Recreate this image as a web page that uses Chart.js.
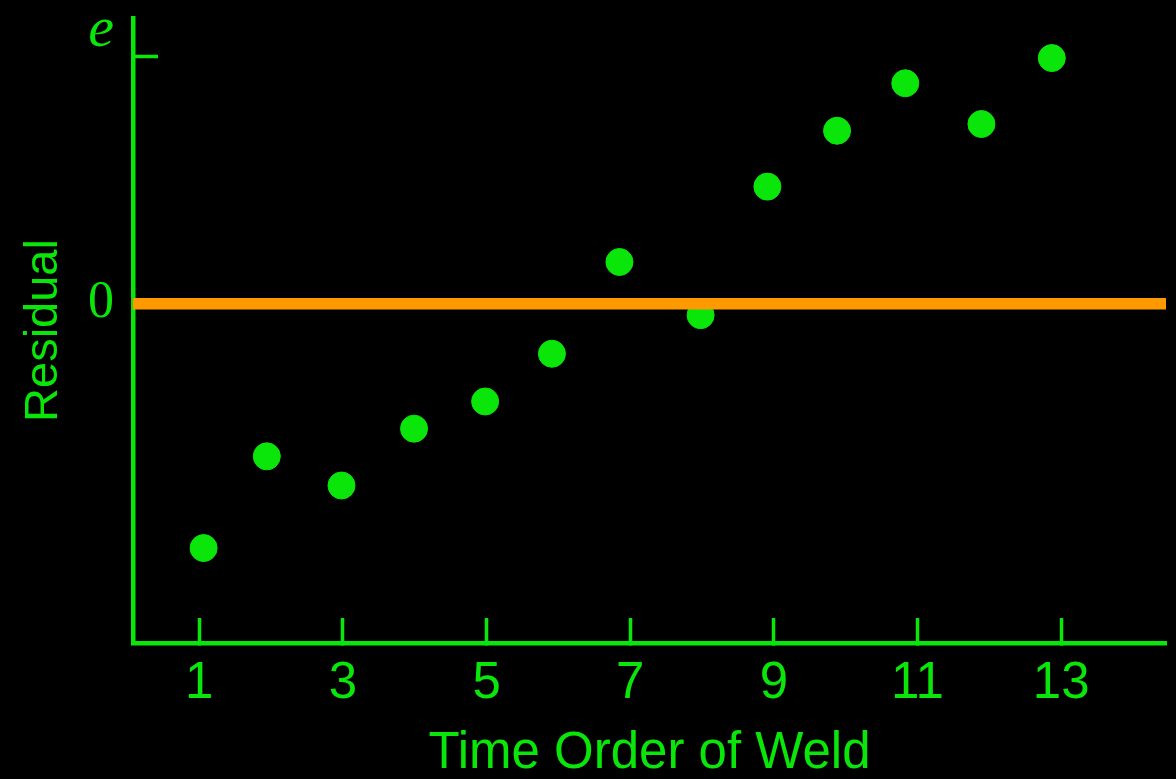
<!DOCTYPE html>
<html>
<head>
<meta charset="utf-8">
<title>Residual vs Time Order of Weld</title>
<script src="https://cdn.jsdelivr.net/npm/chart.js@4/dist/chart.umd.min.js"></script>
<style>
  html, body { margin: 0; padding: 0; background: #000; }
  #wrap { width: 1176px; height: 779px; }
</style>
</head>
<body>
<div id="wrap"><canvas id="chart" width="1176" height="779"></canvas></div>
<script>
// Residual of each weld, in time order
const weldOrder = [1.06, 1.94, 2.98, 3.99, 4.98, 5.91, 6.85, 7.98, 8.91, 9.88, 10.83, 11.89, 12.87];
const residuals = [-0.988, -0.617, -0.735, -0.505, -0.395, -0.202, 0.169, -0.046, 0.474, 0.700, 0.892, 0.727, 0.994];

// Axis ticks and labels
const xTickValues = [1, 3, 5, 7, 9, 11, 13];
const yTickValues = [0, 1, 1.105];
const yTickLabels = ['0', '', 'e'];
const xTitle = 'Time Order of Weld';
const yTitle = 'Residual';

// Axis extents
const xMin = 0.077, xMax = 14.46;
const yMin = -1.372, yMax = 1.156;

const GREEN = '#0ae60a';
const ORANGE = '#ff9900';

new Chart(document.getElementById('chart'), {
  type: 'scatter',
  data: {
    datasets: [
      {
        // zero reference line, drawn above the points
        type: 'line',
        data: [{ x: xMin, y: 0 }, { x: xMax, y: 0 }],
        borderColor: ORANGE,
        borderWidth: 11.5,
        borderCapStyle: 'butt',
        pointRadius: 0,
        fill: false,
        clip: false
      },
      {
        data: weldOrder.map((x, i) => ({ x, y: residuals[i] })),
        backgroundColor: GREEN,
        borderColor: GREEN,
        borderWidth: 1,
        pointRadius: 13.5,
        pointHoverRadius: 13.5
      }
    ]
  },
  options: {
    responsive: false,
    animation: false,
    devicePixelRatio: 1,
    layout: { autoPadding: false, padding: { left: 0, right: 10, top: 18, bottom: 0 } },
    plugins: { legend: { display: false }, tooltip: { enabled: false } },
    scales: {
      x: {
        type: 'linear',
        min: xMin,
        max: xMax,
        afterBuildTicks: s => { s.ticks = xTickValues.map(v => ({ value: v })); },
        afterFit: s => { s.height = 136; s.paddingLeft = 0; s.paddingRight = 0; },
        ticks: {
          color: GREEN,
          font: { family: 'Liberation Sans', size: 51 },
          padding: 35,
          maxRotation: 0,
          autoSkip: false,
          callback: v => String(v)
        },
        grid: {
          drawOnChartArea: false,
          drawTicks: true,
          tickLength: -25,
          tickWidth: 3.5,
          tickColor: GREEN
        },
        border: { color: GREEN, width: 4.5 },
        title: {
          display: true,
          text: xTitle,
          color: GREEN,
          font: { family: 'Liberation Sans', size: 51, lineHeight: 1 },
          padding: { top: 0, bottom: 0 }
        }
      },
      y: {
        type: 'linear',
        min: yMin,
        max: yMax,
        afterBuildTicks: s => { s.ticks = yTickValues.map(v => ({ value: v })); },
        afterFit: s => { s.width = 133; s.paddingTop = 0; s.paddingBottom = 0; },
        ticks: {
          color: GREEN,
          padding: 44,
          autoSkip: false,
          font: ctx => ctx.index === 2
            ? { family: 'Liberation Serif', size: 58, style: 'italic' }
            : { family: 'Liberation Serif', size: 52 },
          callback: (v, i) => yTickLabels[i]
        },
        grid: {
          drawOnChartArea: false,
          drawTicks: true,
          tickLength: -25,
          tickWidth: 3.5,
          tickColor: ctx => ctx.index === 1 ? GREEN : 'rgba(0,0,0,0)'
        },
        border: { color: GREEN, width: 4.5 },
        title: {
          display: true,
          text: yTitle,
          color: GREEN,
          font: { family: 'Liberation Sans', size: 47 },
          padding: { top: 16, bottom: 0 }
        }
      }
    }
  }
});
</script>
</body>
</html>
